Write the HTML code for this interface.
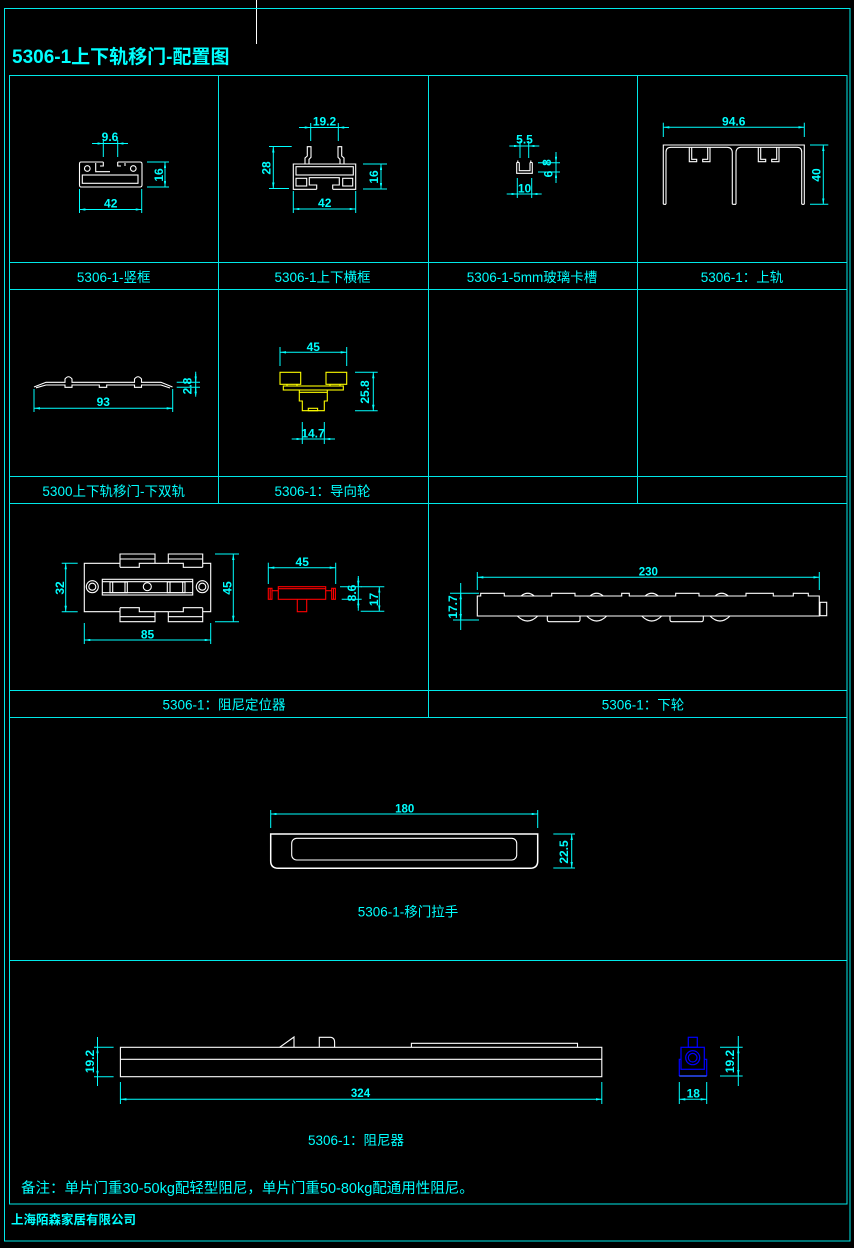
<!DOCTYPE html>
<html><head><meta charset="utf-8"><style>
html,body{margin:0;padding:0;background:#000;}
body{width:854px;height:1248px;overflow:hidden;}
svg{display:block;}
text{font-family:"Liberation Sans","Noto Sans CJK SC",sans-serif;fill:#0ff;}
.d{font-size:12px;font-weight:bold;}
.s{font-size:11.5px;font-weight:bold;}
.l{font-size:13.5px;}
</style></head><body>
<svg width="854" height="1248" viewBox="0 0 854 1248" xmlns="http://www.w3.org/2000/svg">
<defs><marker id="a" viewBox="0 0 10 4" refX="10" refY="2" markerWidth="6" markerHeight="2.4" markerUnits="userSpaceOnUse" orient="auto-start-reverse"><path d="M0,0L10,2L0,4z" fill="#0ff"/></marker></defs>
<rect width="854" height="1248" fill="#000"/>
<line x1="256.5" y1="0" x2="256.5" y2="44" stroke="#fff"/>

<!-- frame -->
<g fill="none" stroke="#00e8e8" stroke-width="1">
<rect x="4.5" y="8.5" width="845.5" height="1232.5"/>
<rect x="9.5" y="75.5" width="837.5" height="1128.5"/>
<line x1="9.5" y1="262.5" x2="847" y2="262.5"/>
<line x1="9.5" y1="289.5" x2="847" y2="289.5"/>
<line x1="9.5" y1="476.5" x2="847" y2="476.5"/>
<line x1="9.5" y1="503.5" x2="847" y2="503.5"/>
<line x1="9.5" y1="690.5" x2="847" y2="690.5"/>
<line x1="9.5" y1="717.5" x2="847" y2="717.5"/>
<line x1="9.5" y1="960.5" x2="847" y2="960.5"/>
<line x1="218.5" y1="75.5" x2="218.5" y2="503.5"/>
<line x1="428.5" y1="75.5" x2="428.5" y2="717.5"/>
<line x1="637.5" y1="75.5" x2="637.5" y2="503.5"/>
</g>

<text x="12" y="63" style="font-size:19px;font-weight:bold">5306-1上下轨移门-配置图</text>

<!-- white shapes -->
<g fill="none" stroke="#fff" stroke-width="1.1">
<!-- cell1 竖框 -->
<path d="M103.3,162 H81 Q79.5,162 79.5,164 V185 Q79.5,187 81,187 H140 Q142,187 142,185 V164 Q142,162 140,162 H117.7"/>
<path d="M103.3,162 V166 H100 M117.7,162 V166 H121 M95.7,163 V171.7 H110 M125,163 V166"/>
<rect x="82.3" y="175" width="55.7" height="8.3"/>
<circle cx="87.3" cy="168.5" r="2.8"/>
<circle cx="133.3" cy="168.5" r="2.8"/>
<!-- cell2 横框 -->
<path d="M316.7,189.3 H293.3 V164 H355.7 V189.3 H332.7"/>
<rect x="296" y="166.7" width="57.3" height="8.3"/>
<rect x="296" y="178.3" width="10.7" height="7.7"/>
<rect x="342.7" y="178.3" width="10" height="7.7"/>
<path d="M316.7,189.3 V185 H309.3 V177.7 H339.3 V185 H332.7 V189.3"/>
<path d="M305,164 V158 L307.3,156 V146.7 H311 V157.3 L309,159.3 V164"/>
<path d="M344,164 V158 L341.7,156 V146.7 H338 V157.3 L340,159.3 V164"/>
<!-- cell3 glass slot -->
<path d="M516.7,162.5 V173.3 H532.3 V162.5 M519.3,162.5 V170.7 H530 V162.5 M516.7,162.5 H519.3 M530,162.5 H532.3"/>
<path d="M517.8,162.5 V160.5 M530.8,162.5 V160.5"/>
<!-- cell4 top rail -->
<path d="M663.3,204.3 V145 H804.3 V204.3"/>
<path d="M666,204.3 V152 Q666,147.3 671,147.3 H727 Q732.3,147.3 732.3,153 V204.3"/>
<path d="M736,204.3 V153 Q736,147.3 741,147.3 H797 Q801.7,147.3 801.7,152 V204.3"/>
<path d="M663.3,204.3 H666 M732.3,204.3 H736 M801.7,204.3 H804.3"/>
<path d="M689.3,147.3 V161.7 H696.7 V159.3 H691.7 V147.3"/>
<path d="M710,147.3 V161.7 H702.7 V159.3 H707.7 V147.3"/>
<path d="M758.3,147.3 V161.7 H765.7 V159.3 H760.7 V147.3"/>
<path d="M779,147.3 V161.7 H771.7 V159.3 H776.7 V147.3"/>
<!-- row2 double rail -->
<path d="M34,387 L46,382.3 H65 V379 Q68.5,374.5 72,379 V382.3 H134.5 V379 Q138,374.5 141.5,379 V382.3 H161 L172.5,387"/>
<path d="M36,387.8 L46,385 H65 V387.3 H72 V385 H99.3 V387.3 H106.7 V385 H134.5 V387.3 H141.5 V385 H161 L170,388"/>
<!-- locator -->
<path d="M120,563.3 H84.3 V611.7 H120 M155,563.3 H168.3 M202.7,563.3 H210.7 V611.7 H202.7 M155,611.7 H168.3"/>
<path d="M120,567.3 V554 H155 V563.3 M120,559 H155 M120,567.3 H139.3 V563.3 H155"/>
<path d="M168.3,563.3 V554 H202.7 V567.3 M168.3,559 H202.7 M168.3,563.3 H183.3 V567.3 H202.7"/>
<path d="M120,607.7 V621.7 H155 V611.7 M120,616.7 H155 M120,607.7 H139.3 V611.7 H155"/>
<path d="M168.3,611.7 V621.7 H202.7 V607.7 M168.3,616.7 H202.7 M168.3,611.7 H183.3 V607.7 H202.7"/>
<circle cx="92.3" cy="586.7" r="6"/><circle cx="92.3" cy="586.7" r="3.5"/>
<circle cx="202.3" cy="586.7" r="6"/><circle cx="202.3" cy="586.7" r="3.5"/>
<rect x="102.3" y="579.3" width="90.4" height="15.7"/>
<line x1="102.3" y1="581.7" x2="192.7" y2="581.7"/>
<line x1="102.3" y1="592.7" x2="192.7" y2="592.7"/>
<rect x="110" y="582" width="17.3" height="10.7"/>
<line x1="112.7" y1="582" x2="112.7" y2="592.7"/><line x1="125" y1="582" x2="125" y2="592.7"/>
<rect x="167.3" y="582" width="17.7" height="10.7"/>
<line x1="170" y1="582" x2="170" y2="592.7"/><line x1="182.7" y1="582" x2="182.7" y2="592.7"/>
<circle cx="147.3" cy="586.7" r="4"/>
<!-- lower wheel -->
<path d="M477.3,616 V596 H480.7 V593.3 H504.3 V596 H551.7 V593.3 H575 V596 H621.7 V593.3 H629.3 V596 H675.7 V593.3 H699 V596 H746 V593.3 H773.3 V596 H793.3 V593.3 H808.3 V596 H819.3 V616 Z"/>
<path d="M521,596 Q527.7,590.5 534.3,596 M590,596 Q596.7,590.5 603.3,596 M645,596 Q651.7,590.5 658.3,596 M715,596 Q721.7,590.5 728.3,596"/>
<path d="M517.3,616 Q527.5,626 537.7,616 M586.7,616 Q596.7,626 606.7,616 M641.7,616 Q651.7,626 661.7,616 M710,616 Q720,626 730,616"/>
<path d="M547.3,616 V619.5 Q547.3,621.7 549.5,621.7 H577.8 Q580,621.7 580,619.5 V616"/>
<path d="M670,616 V619.5 Q670,621.7 672.2,621.7 H701.1 Q703.3,621.7 703.3,619.5 V616"/>
<rect x="820" y="602.3" width="6.7" height="13.4"/>
<!-- handle -->
<path d="M270.7,834 H537.7 V861 Q537.7,868.3 530,868.3 H278.4 Q270.7,868.3 270.7,861 Z" stroke-width="1.5"/>
<rect x="291.7" y="838.3" width="225" height="21.7" rx="5"/>
<!-- damper -->
<rect x="120.4" y="1047.3" width="481.4" height="29.4"/>
<line x1="120.4" y1="1059.3" x2="601.8" y2="1059.3"/>
<path d="M411.4,1047.3 V1043.3 H577.5 V1047.3"/>
<path d="M279.6,1047.3 L294,1037 V1047.3"/>
<path d="M319.3,1047.3 V1037.3 H331 Q334.6,1038 334.6,1042 V1047.3"/>
</g>

<!-- yellow guide wheel -->
<g fill="none" stroke="#ff0" stroke-width="1.1">
<rect x="280" y="372.3" width="20.7" height="12"/>
<rect x="326" y="372.3" width="20.7" height="12"/>
<path d="M287,384.3 V386 M297,384.3 V386 M330,384.3 V386 M340,384.3 V386"/>
<rect x="283.3" y="386" width="60" height="4"/>
<path d="M299.3,390 V401 H302.3 V410.7 H324.3 V401 H327.3 V390"/>
<line x1="299.3" y1="392.3" x2="327.3" y2="392.3"/>
<rect x="308.3" y="408.3" width="9.3" height="2.4"/>
</g>

<!-- red side view -->
<g fill="none" stroke="#f00" stroke-width="1.1">
<rect x="278.3" y="586.7" width="47.4" height="12.6"/>
<line x1="278.3" y1="588.7" x2="325.7" y2="588.7"/>
<rect x="268.3" y="588.3" width="3.7" height="11"/>
<line x1="270.2" y1="588.3" x2="270.2" y2="599.3"/>
<line x1="272" y1="590.7" x2="278.3" y2="590.7"/>
<rect x="331.7" y="588.3" width="3.7" height="11"/>
<line x1="333.5" y1="588.3" x2="333.5" y2="599.3"/>
<line x1="325.7" y1="590.7" x2="331.7" y2="590.7"/>
<path d="M297.3,599.3 V611.7 H306.7 V599.3"/>
</g>

<!-- blue end view -->
<g fill="none" stroke="#0000ff" stroke-width="1.2">
<rect x="688.3" y="1037.3" width="9" height="10"/>
<rect x="681" y="1047.3" width="23.3" height="22"/>
<circle cx="692.7" cy="1057.7" r="7"/>
<circle cx="692.7" cy="1057.7" r="4.3"/>
<path d="M681,1059.3 H679.3 V1076 M704.3,1059.3 H706.7 V1076"/>
<line x1="679.3" y1="1076" x2="706.7" y2="1076" stroke="#2a4dff" stroke-width="1.5"/>
</g>

<!-- dimensions -->
<g fill="none" stroke="#0ff" stroke-width="1">
<!-- cell1 -->
<line x1="92" y1="143.5" x2="128" y2="143.5"/>
<line x1="95" y1="143.5" x2="103.3" y2="143.5" marker-end="url(#a)"/>
<line x1="125" y1="143.5" x2="117.7" y2="143.5" marker-end="url(#a)"/>
<line x1="103.3" y1="140" x2="103.3" y2="157"/><line x1="117.7" y1="140" x2="117.7" y2="157"/>
<line x1="79.5" y1="209.5" x2="141.7" y2="209.5" marker-start="url(#a)" marker-end="url(#a)"/>
<line x1="79.5" y1="189" x2="79.5" y2="213"/><line x1="141.7" y1="189" x2="141.7" y2="213"/>
<line x1="165" y1="162" x2="165" y2="187" marker-start="url(#a)" marker-end="url(#a)"/>
<line x1="147" y1="162" x2="169" y2="162"/><line x1="147" y1="187" x2="169" y2="187"/>
<!-- cell2 -->
<line x1="299" y1="127.5" x2="349" y2="127.5"/>
<line x1="302" y1="127.5" x2="310.7" y2="127.5" marker-end="url(#a)"/>
<line x1="346" y1="127.5" x2="338.3" y2="127.5" marker-end="url(#a)"/>
<line x1="310.7" y1="123" x2="310.7" y2="141"/><line x1="338.3" y1="123" x2="338.3" y2="141"/>
<line x1="273.3" y1="146.5" x2="273.3" y2="188.5" marker-start="url(#a)" marker-end="url(#a)"/>
<line x1="269" y1="146.5" x2="291.7" y2="146.5"/><line x1="269" y1="188.5" x2="289" y2="188.5"/>
<line x1="381" y1="164" x2="381" y2="189" marker-start="url(#a)" marker-end="url(#a)"/>
<line x1="363" y1="164" x2="387" y2="164"/><line x1="363" y1="189" x2="387" y2="189"/>
<line x1="293.3" y1="209" x2="355.7" y2="209" marker-start="url(#a)" marker-end="url(#a)"/>
<line x1="293.3" y1="191" x2="293.3" y2="213"/><line x1="355.7" y1="191" x2="355.7" y2="213"/>
<!-- cell3 -->
<line x1="509.3" y1="146" x2="539.3" y2="146"/>
<line x1="512" y1="146" x2="520" y2="146" marker-end="url(#a)"/>
<line x1="537" y1="146" x2="528.7" y2="146" marker-end="url(#a)"/>
<line x1="520" y1="141" x2="520" y2="158"/><line x1="528.7" y1="141" x2="528.7" y2="158"/>
<line x1="506.7" y1="194" x2="541.7" y2="194"/>
<line x1="509" y1="194" x2="517.3" y2="194" marker-end="url(#a)"/>
<line x1="539.5" y1="194" x2="531.7" y2="194" marker-end="url(#a)"/>
<line x1="517.3" y1="178" x2="517.3" y2="198"/><line x1="531.7" y1="178" x2="531.7" y2="198"/>
<line x1="556" y1="152" x2="556" y2="183"/>
<line x1="556" y1="154" x2="556" y2="162.7" marker-end="url(#a)"/>
<line x1="556" y1="181" x2="556" y2="172" marker-end="url(#a)"/>
<line x1="538" y1="162.7" x2="560" y2="162.7"/><line x1="538" y1="172" x2="560" y2="172"/>
<!-- cell4 -->
<line x1="663.3" y1="127.3" x2="804.3" y2="127.3" marker-start="url(#a)" marker-end="url(#a)"/>
<line x1="663.3" y1="122.7" x2="663.3" y2="137"/><line x1="804.3" y1="122.7" x2="804.3" y2="137"/>
<line x1="823.3" y1="145" x2="823.3" y2="204.3" marker-start="url(#a)" marker-end="url(#a)"/>
<line x1="810" y1="145" x2="828.3" y2="145"/><line x1="810" y1="204.3" x2="828.3" y2="204.3"/>
<!-- double rail -->
<line x1="34" y1="408.3" x2="172.7" y2="408.3" marker-start="url(#a)" marker-end="url(#a)"/>
<line x1="34" y1="389" x2="34" y2="412"/><line x1="172.7" y1="389" x2="172.7" y2="412"/>
<line x1="195.7" y1="371.7" x2="195.7" y2="396.7"/>
<line x1="195.7" y1="374" x2="195.7" y2="382.3" marker-end="url(#a)"/>
<line x1="195.7" y1="395" x2="195.7" y2="387.3" marker-end="url(#a)"/>
<line x1="176.7" y1="382.3" x2="200" y2="382.3"/><line x1="176.7" y1="387.3" x2="200" y2="387.3"/>
<!-- guide wheel -->
<line x1="280" y1="352.3" x2="346.7" y2="352.3" marker-start="url(#a)" marker-end="url(#a)"/>
<line x1="280" y1="347" x2="280" y2="366"/><line x1="346.7" y1="347" x2="346.7" y2="366"/>
<line x1="373.3" y1="372.3" x2="373.3" y2="410.7" marker-start="url(#a)" marker-end="url(#a)"/>
<line x1="355" y1="372.3" x2="377.7" y2="372.3"/><line x1="355" y1="410.7" x2="377.7" y2="410.7"/>
<line x1="291.7" y1="439" x2="335" y2="439"/>
<line x1="294" y1="439" x2="302.3" y2="439" marker-end="url(#a)"/>
<line x1="332.5" y1="439" x2="324.3" y2="439" marker-end="url(#a)"/>
<line x1="302.3" y1="422" x2="302.3" y2="444"/><line x1="324.3" y1="422" x2="324.3" y2="444"/>
<!-- locator -->
<line x1="65.7" y1="563.3" x2="65.7" y2="611.7" marker-start="url(#a)" marker-end="url(#a)"/>
<line x1="61.7" y1="563.3" x2="77.7" y2="563.3"/><line x1="61.7" y1="611.7" x2="77.7" y2="611.7"/>
<line x1="233.3" y1="554" x2="233.3" y2="621.7" marker-start="url(#a)" marker-end="url(#a)"/>
<line x1="215" y1="554" x2="239" y2="554"/><line x1="215" y1="621.7" x2="239" y2="621.7"/>
<line x1="84.3" y1="640" x2="210.7" y2="640" marker-start="url(#a)" marker-end="url(#a)"/>
<line x1="84.3" y1="623" x2="84.3" y2="644"/><line x1="210.7" y1="623" x2="210.7" y2="644"/>
<!-- red -->
<line x1="268.3" y1="567.7" x2="335.7" y2="567.7" marker-start="url(#a)" marker-end="url(#a)"/>
<line x1="268.3" y1="562.7" x2="268.3" y2="584"/><line x1="335.7" y1="562.7" x2="335.7" y2="584"/>
<line x1="379.3" y1="586.7" x2="379.3" y2="611.3" marker-start="url(#a)" marker-end="url(#a)"/>
<line x1="360.7" y1="586.7" x2="384.3" y2="586.7"/><line x1="360.7" y1="611.3" x2="384.3" y2="611.3"/>
<line x1="358.3" y1="576" x2="358.3" y2="610.7"/>
<line x1="358.3" y1="578" x2="358.3" y2="586.7" marker-end="url(#a)"/>
<line x1="358.3" y1="608" x2="358.3" y2="599.3" marker-end="url(#a)"/>
<line x1="340" y1="586.7" x2="361.7" y2="586.7"/><line x1="341.7" y1="599.3" x2="361.7" y2="599.3"/>
<!-- wheel -->
<line x1="477.3" y1="577.3" x2="819.3" y2="577.3" marker-start="url(#a)" marker-end="url(#a)"/>
<line x1="477.3" y1="572" x2="477.3" y2="590"/><line x1="819.3" y1="572" x2="819.3" y2="590"/>
<line x1="460.7" y1="583" x2="460.7" y2="630"/>
<line x1="460.7" y1="593.3" x2="460.7" y2="620" marker-start="url(#a)" marker-end="url(#a)"/>
<line x1="450" y1="593.3" x2="479" y2="593.3"/><line x1="453" y1="620" x2="479" y2="620"/>
<!-- handle -->
<line x1="270.7" y1="814" x2="537.7" y2="814" marker-start="url(#a)" marker-end="url(#a)"/>
<line x1="270.7" y1="810" x2="270.7" y2="828"/><line x1="537.7" y1="810" x2="537.7" y2="828"/>
<line x1="571.7" y1="834" x2="571.7" y2="868" marker-start="url(#a)" marker-end="url(#a)"/>
<line x1="553.3" y1="834" x2="575" y2="834"/><line x1="553.3" y1="868" x2="575" y2="868"/>
<!-- damper -->
<line x1="97.5" y1="1037" x2="97.5" y2="1086"/>
<line x1="97.5" y1="1047.3" x2="97.5" y2="1076.7" marker-start="url(#a)" marker-end="url(#a)"/>
<line x1="94" y1="1047.3" x2="113.6" y2="1047.3"/><line x1="94" y1="1076.7" x2="113.6" y2="1076.7"/>
<line x1="120.4" y1="1099.3" x2="601.8" y2="1099.3" marker-start="url(#a)" marker-end="url(#a)"/>
<line x1="120.4" y1="1082" x2="120.4" y2="1104"/><line x1="601.8" y1="1082" x2="601.8" y2="1104"/>
<!-- end view -->
<line x1="679.3" y1="1099.3" x2="706.7" y2="1099.3" marker-start="url(#a)" marker-end="url(#a)"/>
<line x1="679.3" y1="1082" x2="679.3" y2="1104"/><line x1="706.7" y1="1082" x2="706.7" y2="1104"/>
<line x1="738.3" y1="1036" x2="738.3" y2="1086"/>
<line x1="738.3" y1="1047.3" x2="738.3" y2="1076" marker-start="url(#a)" marker-end="url(#a)"/>
<line x1="720" y1="1047.3" x2="742.7" y2="1047.3"/><line x1="720" y1="1076" x2="742.7" y2="1076"/>
</g>

<!-- dim texts -->
<g class="d" text-anchor="middle">
<text x="110" y="141">9.6</text>
<text x="110.7" y="207.5">42</text>
<text transform="translate(163,175) rotate(-90)">16</text>
<text x="324.5" y="125.5">19.2</text>
<text transform="translate(270.5,168) rotate(-90)">28</text>
<text transform="translate(378,177) rotate(-90)">16</text>
<text x="324.7" y="207">42</text>
<text x="524.5" y="143.5">5.5</text>
<text x="524.5" y="192.5">10</text>
<text transform="translate(551,162.5) rotate(-90)">8</text>
<text transform="translate(552.5,174) rotate(-90)">6</text>
<text x="733.7" y="125.5">94.6</text>
<text transform="translate(820.5,175) rotate(-90)">40</text>
<text x="103.3" y="406">93</text>
<text transform="translate(191.5,386) rotate(-90)">2.8</text>
<text x="313.3" y="351">45</text>
<text transform="translate(369,392) rotate(-90)">25.8</text>
<text x="313" y="437.5">14.7</text>
<text transform="translate(64,588) rotate(-90)">32</text>
<text transform="translate(231.5,588) rotate(-90)">45</text>
<text x="147.5" y="638.5">85</text>
<text x="302.2" y="566">45</text>
<text transform="translate(378,599.5) rotate(-90)">17</text>
<text transform="translate(356,593) rotate(-90)">8.6</text>
<text transform="translate(457,607) rotate(-90)">17.7</text>
<text transform="translate(568,852) rotate(-90)">22.5</text>
<text transform="translate(94,1061.5) rotate(-90)">19.2</text>
<text transform="translate(734,1061.5) rotate(-90)">19.2</text>
<text x="693.3" y="1097.5">18</text>
</g>
<g class="s" text-anchor="middle">
<text x="648.3" y="575.5">230</text>
<text x="404.7" y="812.5">180</text>
<text x="360.5" y="1097">324</text>
</g>

<!-- labels -->
<g class="l" text-anchor="middle">
<text x="113.7" y="282">5306-1-竖框</text>
<text x="322.5" y="282">5306-1上下横框</text>
<text x="532" y="282">5306-1-5mm玻璃卡槽</text>
<text x="742" y="282">5306-1：上轨</text>
<text x="113.7" y="496">5300上下轨移门-下双轨</text>
<text x="322.5" y="496">5306-1：导向轮</text>
<text x="224" y="709.5">5306-1：阻尼定位器</text>
<text x="643" y="709.5">5306-1：下轮</text>
<text x="408" y="916.5">5306-1-移门拉手</text>
<text x="356" y="1145">5306-1：阻尼器</text>
</g>
<text x="21" y="1193" style="font-size:14.5px">备注：单片门重30-50kg配轻型阻尼，单片门重50-80kg配通用性阻尼。</text>
<text x="11" y="1224" style="font-size:12.5px;font-weight:bold">上海陌森家居有限公司</text>
</svg>
</body></html>
